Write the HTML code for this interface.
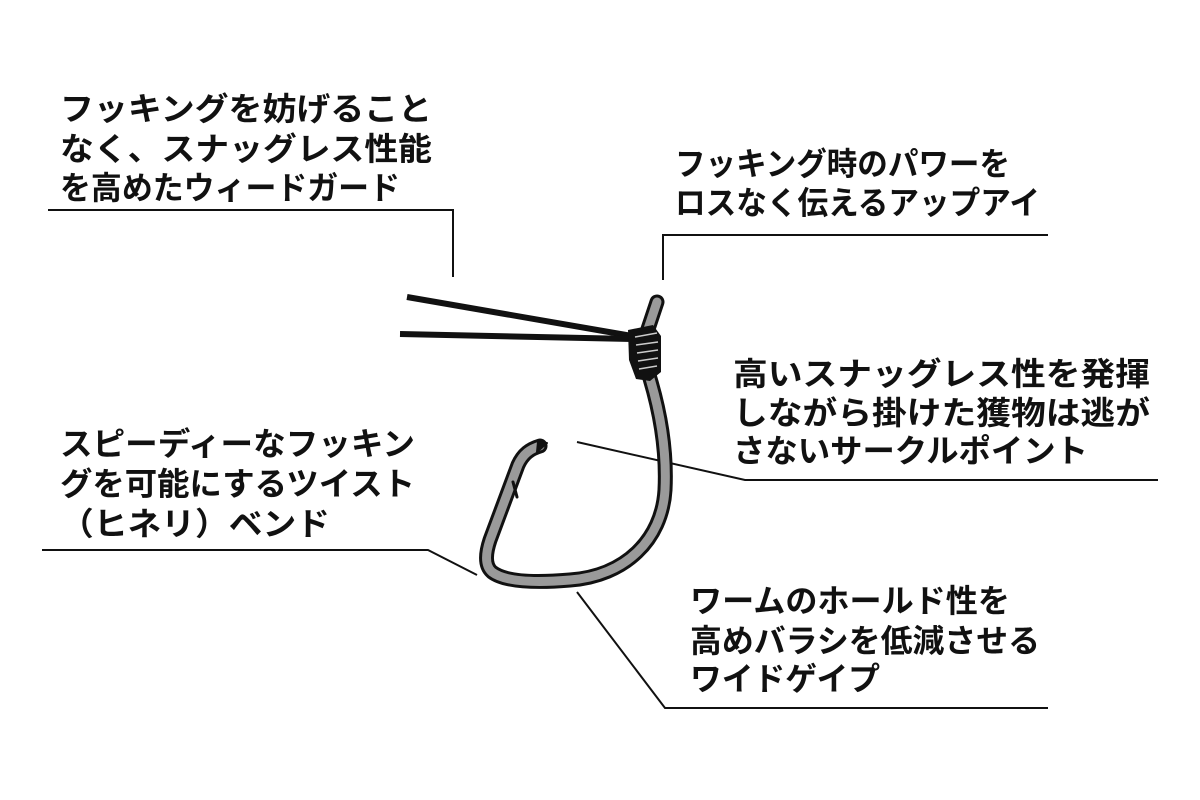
<!DOCTYPE html>
<html><head><meta charset="utf-8"><style>
html,body{margin:0;padding:0;background:#fff;}
svg{display:block}
text{font-family:"Liberation Sans","Noto Sans CJK JP",sans-serif;font-weight:bold;font-size:32px;fill:#111;}
</style></head><body>
<svg width="1200" height="800" viewBox="0 0 1200 800">
<rect width="1200" height="800" fill="#fff"/>
<text x="60" y="120" textLength="372" lengthAdjust="spacingAndGlyphs">フッキングを妨げること</text>
<text x="60" y="160" textLength="372" lengthAdjust="spacingAndGlyphs">なく、スナッグレス性能</text>
<text x="60" y="199" textLength="340" lengthAdjust="spacingAndGlyphs">を高めたウィードガード</text>

<text x="675" y="175" textLength="335" lengthAdjust="spacingAndGlyphs">フッキング時のパワーを</text>
<text x="675" y="214" textLength="365" lengthAdjust="spacingAndGlyphs">ロスなく伝えるアップアイ</text>

<text x="733" y="385" textLength="417" lengthAdjust="spacingAndGlyphs">高いスナッグレス性を発揮</text>
<text x="733" y="424" textLength="417" lengthAdjust="spacingAndGlyphs">しながら掛けた獲物は逃が</text>
<text x="733" y="462" textLength="355" lengthAdjust="spacingAndGlyphs">さないサークルポイント</text>

<text x="60" y="455" textLength="355" lengthAdjust="spacingAndGlyphs">スピーディーなフッキン</text>
<text x="60" y="495" textLength="355" lengthAdjust="spacingAndGlyphs">グを可能にするツイスト</text>
<text x="60" y="535" textLength="270" lengthAdjust="spacingAndGlyphs">（ヒネリ）ベンド</text>

<text x="690" y="612" textLength="320" lengthAdjust="spacingAndGlyphs">ワームのホールド性を</text>
<text x="690" y="652" textLength="350" lengthAdjust="spacingAndGlyphs">高めバラシを低減させる</text>
<text x="690" y="690" textLength="190" lengthAdjust="spacingAndGlyphs">ワイドゲイプ</text>

<g stroke="#111" stroke-width="2" fill="none">
<polyline points="48,210 453,210 453,277"/>
<polyline points="663,280 663,235 1048,235"/>
<polyline points="577,442 745,480 1158,480"/>
<polyline points="42,550 428,550 477,575"/>
<polyline points="577,592 665,708 1048,708"/>
</g>

<g stroke="#111" stroke-width="6" stroke-linecap="butt">
<line x1="407" y1="297" x2="632" y2="336"/>
<line x1="400" y1="334" x2="632" y2="339"/>
</g>

<g fill="none" stroke-linecap="round" stroke-linejoin="round">
<path d="M657,302 L646,335" stroke="#111" stroke-width="15"/>
<path d="M657,302 L646,335" stroke="#9a9a9a" stroke-width="9"/>
<path d="M648,372 C660,410 667,450 665,490 C662,540 625,576 570,580 C535,583 505,582 492,572 C484,565 486,552 490,540 L518,465 C523,454 530,449 540,446" stroke="#111" stroke-width="15"/>
<path d="M648,372 C660,410 667,450 665,490 C662,540 625,576 570,580 C535,583 505,582 492,572 C484,565 486,552 490,540 L518,465 C523,454 530,449 540,446" stroke="#9a9a9a" stroke-width="9"/>
<path d="M538,442 L547,443 L537,452 Z" fill="#111" stroke="#111" stroke-width="2"/>
<path d="M513,482 L517,497" stroke="#111" stroke-width="3"/>
</g>
<g>
<path d="M628,330 L653,325 L661,336 L661,372 L650,381 L636,379 L629,360 Z" fill="#111"/>
<g stroke="#ccc" stroke-width="1.5" fill="none">
<path d="M635,337 L657,333"/><path d="M636,345 L658,342"/><path d="M637,353 L658,350"/><path d="M638,361 L658,358"/><path d="M639,369 L657,366"/>
</g>
</g>
</svg>
</body></html>
